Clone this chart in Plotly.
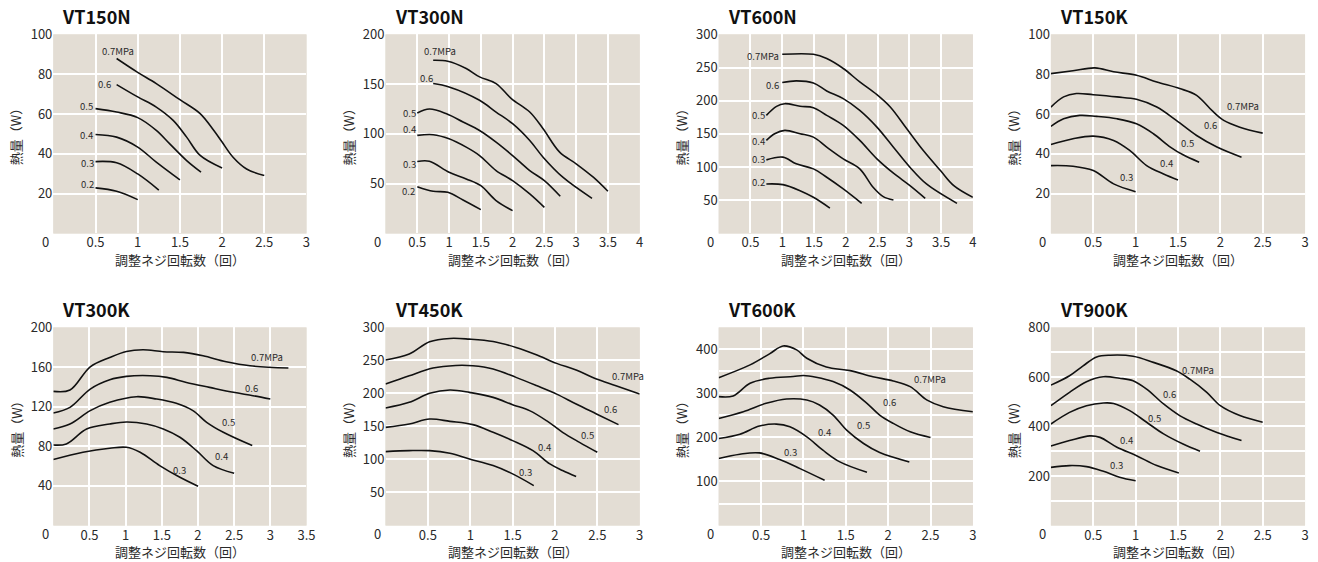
import plotly.graph_objects as go

# ---------------- DATA ----------------
# VT150N
VT150N_LABELS = ["0.7MPa", "0.6", "0.5", "0.4", "0.3", "0.2"]
VT150N_X = [
    [0.75, 0.99, 1.22, 1.5, 1.74, 1.9, 2.0, 2.13, 2.29, 2.5],
    [0.75, 1.0, 1.22, 1.42, 1.58, 1.74, 2.0],
    [0.5, 0.75, 1.0, 1.22, 1.38, 1.58, 1.75],
    [0.5, 0.75, 1.0, 1.22, 1.5],
    [0.5, 0.75, 1.0, 1.25],
    [0.5, 0.75, 1.0],
]
VT150N_Y = [
    [87.9, 81.2, 75.3, 67.2, 60.2, 51.8, 45.9, 38.3, 32.4, 29.1],
    [74.8, 68.6, 63.5, 56.8, 48.4, 39.2, 32.9],
    [62.7, 61.0, 58.2, 51.8, 45.0, 36.6, 30.8],
    [49.7, 48.4, 43.4, 35.8, 26.9],
    [36.1, 35.5, 29.9, 21.8],
    [22.9, 21.2, 17.0],
]
VT150N_LX = [0.77, 0.61, 0.39, 0.39, 0.40, 0.41]
VT150N_LY = [91.8, 75.3, 63.9, 49.7, 35.5, 25.0]

# VT300N
VT300N_LABELS = ["0.7MPa", "0.6", "0.5", "0.4", "0.3", "0.2"]
VT300N_X = [
    [0.75, 0.98, 1.27, 1.48, 1.74, 1.98, 2.27, 2.48, 2.74, 3.0, 3.27, 3.5],
    [0.75, 1.0, 1.48, 1.74, 2.0, 2.27, 2.48, 2.79, 3.25],
    [0.5, 0.69, 0.96, 1.22, 1.48, 1.74, 2.0, 2.27, 2.5, 2.75],
    [0.5, 0.75, 1.0, 1.27, 1.48, 1.74, 2.0, 2.27, 2.5],
    [0.5, 0.69, 1.0, 1.27, 1.5, 1.74, 2.0],
    [0.5, 0.75, 0.98, 1.22, 1.5],
]
VT300N_Y = [
    [174, 173, 165.7, 157.3, 150.6, 135.5, 122, 105.2, 81.7, 70, 56.5, 42.4],
    [150.6, 147.2, 133.8, 122, 110.3, 93.4, 76.6, 56.5, 35.3],
    [121, 125, 120.3, 112, 103.5, 91.8, 78.3, 63.2, 53.1, 37.3],
    [98.5, 99.2, 95.1, 86.7, 78.3, 63.2, 53.1, 39.7, 26.2],
    [72.3, 72.6, 61.5, 54.8, 48, 33, 22.9],
    [47, 42.4, 41.3, 33.6, 23.9],
]
VT300N_LX = [0.86, 0.65, 0.37, 0.37, 0.37, 0.36]
VT300N_LY = [183.5, 156.6, 121, 105.2, 69.9, 42.4]

# VT600N
VT600N_LABELS = ["0.7MPa", "0.6", "0.5", "0.4", "0.3", "0.2"]
VT600N_X = [
    [1.0, 1.49, 1.7, 1.96, 2.22, 2.49, 2.7, 2.96, 3.22, 3.49, 3.7, 4.0],
    [1.0, 1.22, 1.49, 1.7, 1.96, 2.22, 2.49, 2.75, 3.01, 3.27, 3.75],
    [0.75, 0.91, 1.04, 1.28, 1.49, 1.7, 1.96, 2.22, 2.49, 2.75, 3.01, 3.25],
    [0.75, 0.88, 1.04, 1.28, 1.49, 1.7, 1.96, 2.22, 2.43, 2.59, 2.75],
    [0.75, 1.01, 1.22, 1.49, 1.7, 1.96, 2.25],
    [0.75, 1.01, 1.28, 1.49, 1.75],
]
VT600N_Y = [
    [270, 270, 263.6, 248.6, 228.4, 209.2, 190.6, 157.8, 125, 94.8, 72.1, 54.5],
    [227.4, 230, 226.9, 214.8, 203.2, 185.5, 160.3, 130, 99.8, 74.6, 45.4],
    [178, 191.6, 195.6, 191.6, 189.6, 178, 162.9, 140.2, 112.4, 90.8, 72.1, 52.9],
    [140.2, 150.3, 155.3, 150.3, 145.2, 130.1, 112.4, 97.3, 69.6, 55.5, 50.4],
    [110.9, 115, 104.9, 97.3, 84.7, 67.1, 45.4],
    [74.6, 73.6, 64.5, 54.5, 38.3],
]
VT600N_LX = [0.69, 0.85, 0.63, 0.63, 0.63, 0.63]
VT600N_LY = [267.2, 224.4, 178, 138.7, 112.4, 77.1]

# VT150K
VT150K_LABELS = ["0.7MPa", "0.6", "0.5", "0.4", "0.3"]
VT150K_X = [
    [0, 0.26, 0.52, 0.74, 1.01, 1.25, 1.52, 1.72, 1.9, 2.04, 2.23, 2.5],
    [0, 0.15, 0.3, 0.5, 0.78, 1.01, 1.25, 1.48, 1.72, 1.96, 2.25],
    [0, 0.15, 0.34, 0.54, 0.78, 1.01, 1.21, 1.41, 1.56, 1.75],
    [0, 0.26, 0.5, 0.74, 0.93, 1.13, 1.33, 1.5],
    [0, 0.26, 0.5, 0.74, 1.0],
]
VT150K_Y = [
    [80.3, 81.7, 83.2, 81.2, 79.5, 76.1, 72.8, 69.4, 61.8, 56.8, 53.4, 50.4],
    [63.5, 68.6, 70.3, 69.7, 68.6, 67.4, 63.5, 56.8, 49.2, 43.4, 38.3],
    [53.8, 57.6, 59.3, 58.8, 57.6, 55.1, 50.1, 43.4, 39.5, 35.8],
    [44.7, 47.6, 48.9, 46.7, 41.7, 34.1, 29.9, 26.9],
    [34.1, 33.8, 31.6, 24.9, 21.0],
]
VT150K_LX = [2.27, 1.88, 1.61, 1.37, 0.89]
VT150K_LY = [63.9, 54.3, 45.4, 35.5, 28.6]

# VT300K
VT300K_LABELS = ["0.7MPa", "0.6", "0.5", "0.4", "0.3"]
VT300K_X = [
    [0, 0.23, 0.51, 0.78, 1.01, 1.24, 1.52, 1.8, 2.07, 2.39, 2.72, 3.25],
    [0, 0.23, 0.51, 0.78, 1.01, 1.34, 1.57, 1.84, 2.16, 2.49, 2.76, 3.0],
    [0, 0.23, 0.51, 0.78, 1.15, 1.43, 1.7, 1.93, 2.12, 2.35, 2.75],
    [0, 0.18, 0.46, 0.78, 1.01, 1.29, 1.52, 1.75, 1.98, 2.21, 2.5],
    [0, 0.41, 0.78, 1.01, 1.2, 1.47, 1.75, 2.0],
]
VT300K_Y = [
    [135.5, 136.8, 160.3, 169.7, 175.8, 177.5, 175.5, 174.8, 171.4, 165.4, 161.3, 159],
    [113.6, 119.3, 137.8, 147.2, 150.6, 151.3, 149.6, 144.5, 139.5, 134.5, 131.1, 127.7],
    [97.5, 102.5, 116, 124.4, 130.1, 127.7, 123.4, 116, 104.2, 94.1, 80.7],
    [81.3, 82.4, 97.5, 102.5, 104.5, 102.5, 97.5, 89.1, 75.6, 60.5, 52.8],
    [66.6, 74, 78, 79, 74, 60.5, 48.7, 39.7],
]
VT300K_LX = [2.95, 2.74, 2.42, 2.33, 1.75]
VT300K_LY = [169.7, 138.8, 104.2, 69.9, 56.1]

# VT450K
VT450K_LABELS = ["0.7MPa", "0.6", "0.5", "0.4", "0.3"]
VT450K_X = [
    [0, 0.28, 0.52, 0.76, 0.99, 1.27, 1.54, 1.78, 2.02, 2.25, 2.49, 2.72, 3.0],
    [0, 0.28, 0.56, 0.83, 1.03, 1.27, 1.54, 1.78, 2.02, 2.25, 2.49, 2.75],
    [0, 0.28, 0.52, 0.76, 0.99, 1.27, 1.5, 1.7, 1.9, 2.09, 2.29, 2.5],
    [0, 0.28, 0.52, 0.76, 1.03, 1.27, 1.5, 1.74, 1.94, 2.09, 2.25],
    [0, 0.28, 0.52, 0.76, 0.99, 1.27, 1.5, 1.75],
]
VT450K_Y = [
    [250.6, 259.7, 278.3, 283.4, 282.4, 278.8, 269.8, 258.7, 245.6, 235.5, 221.9, 211.8, 199.2],
    [214.3, 226.9, 238.5, 242.5, 242, 237, 224.4, 212, 199, 184, 169, 152.8],
    [178, 186.6, 200.2, 205.2, 201.7, 194.1, 183, 174, 158.8, 141.2, 126, 110.9],
    [148.7, 153.8, 161.3, 157.8, 152.8, 141.2, 128.6, 113.4, 93.3, 83.2, 74.1],
    [111.9, 113.4, 113.4, 109.4, 100.8, 90.8, 78.2, 60.5],
]
VT450K_LX = [2.86, 2.66, 2.38, 1.88, 1.65]
VT450K_LY = [226.9, 176.5, 137.6, 118.5, 80.7]

# VT600K
VT600K_LABELS = ["0.7MPa", "0.6", "0.5", "0.4", "0.3"]
VT600K_X = [
    [0, 0.37, 0.6, 0.76, 0.92, 1.04, 1.27, 1.55, 1.82, 2.06, 2.26, 2.46, 2.65, 3.0],
    [0, 0.17, 0.37, 0.6, 0.88, 1.0, 1.15, 1.35, 1.55, 1.75, 1.9, 2.06, 2.26, 2.5],
    [0, 0.29, 0.56, 0.8, 1.04, 1.19, 1.35, 1.51, 1.71, 1.9, 2.25],
    [0, 0.25, 0.48, 0.68, 0.84, 1.04, 1.23, 1.43, 1.75],
    [0, 0.25, 0.48, 0.72, 0.96, 1.25],
]
VT600K_Y = [
    [336, 365, 390, 408, 399, 380, 360, 352, 338, 328.5, 315.6, 285, 270, 258.6],
    [292.8, 294.3, 323.2, 334.6, 338.4, 340.7, 336.9, 327, 308, 277.6, 251, 232, 213, 200],
    [243.3, 258.6, 277.6, 287.5, 285.2, 273.8, 251, 216.7, 186.3, 165.8, 144.5],
    [197.7, 207.6, 225.9, 230.4, 224.3, 201.5, 171.1, 144.5, 120.9],
    [152.1, 162, 165, 149.8, 129.3, 102.7],
]
VT600K_LX = [2.49, 2.02, 1.71, 1.25, 0.85]
VT600K_LY = [333, 280, 228, 211.4, 167.3]

# VT900K
VT900K_LABELS = ["0.7MPa", "0.6", "0.5", "0.4", "0.3"]
VT900K_X = [
    [0, 0.22, 0.38, 0.54, 0.7, 0.97, 1.21, 1.48, 1.64, 1.84, 2.0, 2.23, 2.5],
    [0, 0.22, 0.42, 0.62, 0.81, 0.97, 1.13, 1.33, 1.52, 1.72, 1.96, 2.25],
    [0, 0.22, 0.42, 0.62, 0.74, 0.93, 1.13, 1.33, 1.56, 1.76],
    [0, 0.22, 0.46, 0.58, 0.78, 1.01, 1.25, 1.51],
    [0, 0.22, 0.42, 0.62, 0.81, 1.0],
]
VT900K_Y = [
    [567, 605, 645, 681, 688, 684, 659, 625, 591, 538, 484, 444, 417],
    [484, 538, 581, 601, 595, 585, 551, 491, 444, 410, 376, 343],
    [410, 457, 484, 495, 493, 464, 417, 370, 329, 300],
    [321, 343, 362, 356, 316, 282, 242, 212],
    [235, 242, 238, 219, 195, 181],
]
VT900K_LX = [1.74, 1.4, 1.22, 0.89, 0.78]
VT900K_LY = [629, 531, 433, 347, 246]

TITLES = ["VT150N", "VT300N", "VT600N", "VT150K", "VT300K", "VT450K", "VT600K", "VT900K"]
X_MAX = [3, 4, 4, 3, 3.5, 3, 3, 3]
Y_MAX = [100, 200, 300, 100, 200, 300, 450, 800]
Y_GRID_STEP = [20, 50, 50, 20, 40, 50, 50, 100]
Y_LABEL_STEP = [20, 50, 50, 20, 40, 50, 100, 200]
X_TITLE = "調整ネジ回転数（回）"
Y_TITLE = "熱量（W）"

PANELS = [
    (VT150N_LABELS, VT150N_X, VT150N_Y, VT150N_LX, VT150N_LY),
    (VT300N_LABELS, VT300N_X, VT300N_Y, VT300N_LX, VT300N_LY),
    (VT600N_LABELS, VT600N_X, VT600N_Y, VT600N_LX, VT600N_LY),
    (VT150K_LABELS, VT150K_X, VT150K_Y, VT150K_LX, VT150K_LY),
    (VT300K_LABELS, VT300K_X, VT300K_Y, VT300K_LX, VT300K_LY),
    (VT450K_LABELS, VT450K_X, VT450K_Y, VT450K_LX, VT450K_LY),
    (VT600K_LABELS, VT600K_X, VT600K_Y, VT600K_LX, VT600K_LY),
    (VT900K_LABELS, VT900K_X, VT900K_Y, VT900K_LX, VT900K_LY),
]

# ---------------- LAYOUT ----------------
W, H = 1318, 562
COL_PX = [(54, 307), (386, 640), (719, 973), (1051, 1305)]
ROW_PX = [(34, 233), (327, 525)]
FONT = "Noto Sans CJK JP"
BG = "#e3ddd4"
TXT = "#2a2a2a"


def VX(p):
    # horizontal pixel -> paper x (calibrated for the page capture)
    return ((p - 0.7) / 0.9926) / W


def VY(p):
    # vertical pixel (from top) -> paper y (calibrated for the page capture)
    return 1 - ((p - 9.6) / 0.982) / H


fig = go.Figure()
annotations = []
layout_axes = {}

for i, (labels, xs, ys, lx, ly) in enumerate(PANELS):
    r, c = divmod(i, 4)
    left, right = COL_PX[c]
    top, bottom = ROW_PX[r]
    ax = "" if i == 0 else str(i + 1)
    xname, yname = "x" + ax, "y" + ax

    for k in range(len(labels)):
        fig.add_trace(go.Scatter(
            x=xs[k], y=ys[k], mode="lines", xaxis=xname, yaxis=yname,
            line=dict(color="#111111", width=1.6, shape="spline", smoothing=1.0),
            hoverinfo="skip", showlegend=False))
        annotations.append(dict(
            x=lx[k], y=ly[k], xref=xname, yref=yname, text=labels[k],
            showarrow=False, font=dict(family=FONT, size=9.5, color=TXT),
            xanchor="center", yanchor="middle"))

    xmax, ymax = X_MAX[i], Y_MAX[i]
    xt = [v * 0.5 for v in range(1, int(round(xmax / 0.5)) + 1)]
    xtext = [("%g" % v) for v in xt]
    gstep, lstep = Y_GRID_STEP[i], Y_LABEL_STEP[i]
    yt = [v * gstep for v in range(1, int(ymax // gstep) + 1)]
    ytext = [("%g" % v) if (round(v) % lstep == 0) else "" for v in yt]

    layout_axes["xaxis" + ax] = dict(
        domain=[VX(left), VX(right)], anchor=yname, range=[0, xmax],
        tickmode="array", tickvals=xt, ticktext=xtext,
        showgrid=True, gridcolor="white", gridwidth=1.6, zeroline=False,
        showline=False, ticks="", fixedrange=True,
        tickfont=dict(family=FONT, size=13, color=TXT))
    layout_axes["yaxis" + ax] = dict(
        domain=[VY(bottom), VY(top)], anchor=xname, range=[0, ymax],
        tickmode="array", tickvals=yt, ticktext=ytext,
        showgrid=True, gridcolor="white", gridwidth=1.6, zeroline=False,
        showline=False, ticks="", fixedrange=True,
        tickfont=dict(family=FONT, size=13, color=TXT))

    # panel title
    annotations.append(dict(
        x=VX(left + 7), y=VY(top - 18), xref="paper", yref="paper",
        text="<b>%s</b>" % TITLES[i], showarrow=False, xanchor="left", yanchor="middle",
        font=dict(family=FONT, size=18, color="#111111")))
    # x-axis title
    annotations.append(dict(
        x=VX((left + right) / 2), y=VY(bottom + 26), xref="paper", yref="paper",
        text=X_TITLE, showarrow=False, xanchor="center", yanchor="middle",
        font=dict(family=FONT, size=13, color=TXT)))
    # y-axis title
    annotations.append(dict(
        x=VX(left - 37), y=VY((top + bottom) / 2), xref="paper", yref="paper",
        text=Y_TITLE, showarrow=False, xanchor="center", yanchor="middle", textangle=-90,
        font=dict(family=FONT, size=13, color=TXT)))
    # shared origin label "0"
    annotations.append(dict(
        x=VX(left - 8), y=VY(bottom + 8), xref="paper", yref="paper",
        text="0", showarrow=False, xanchor="center", yanchor="middle",
        font=dict(family=FONT, size=13, color=TXT)))

shapes = []
for i in range(8):
    r, c = divmod(i, 4)
    left, right = COL_PX[c]
    top, bottom = ROW_PX[r]
    shapes.append(dict(type="rect", xref="paper", yref="paper", layer="below",
                       x0=VX(left), x1=VX(right), y0=VY(bottom), y1=VY(top),
                       fillcolor=BG, line=dict(width=0)))

fig.update_layout(
    width=W, height=H, margin=dict(l=0, r=0, t=0, b=0),
    paper_bgcolor="white", plot_bgcolor=BG,
    annotations=annotations, shapes=shapes, **layout_axes)

POST = (
    "document.documentElement.style.margin='0';"
    "document.documentElement.style.overflow='hidden';"
    "document.body.style.margin='0';"
    "document.body.style.overflow='hidden';"
    "var d=document.getElementById('{plot_id}');"
    "d.style.position='fixed';d.style.left='0px';d.style.top='0px';"
)

fig.write_html("out.html", post_script=POST, config={"displayModeBar": False})
